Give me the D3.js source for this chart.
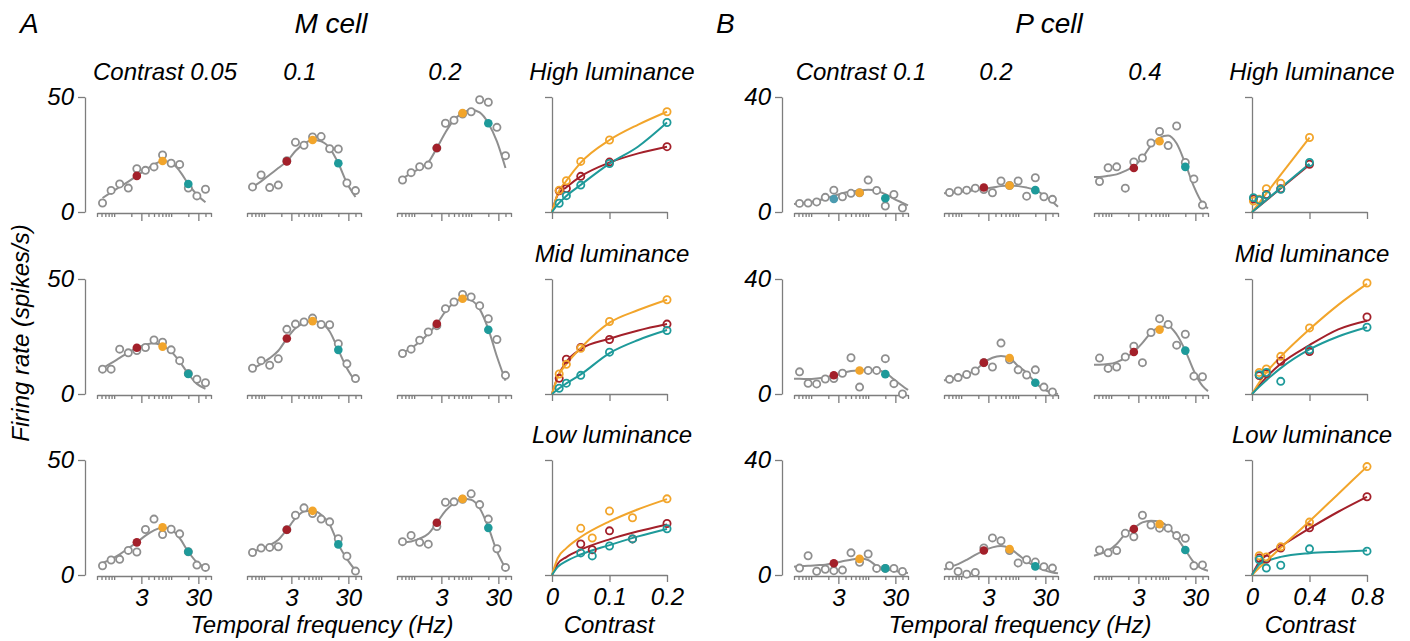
<!DOCTYPE html>
<html>
<head>
<meta charset="utf-8">
<script src="https://cdn.jsdelivr.net/npm/d3@7"></script>
<style>
  body { margin: 0; background: #fff; }
  text { font-family: "Liberation Sans", Arial, sans-serif; font-style: italic; }
</style>
</head>
<body>
<svg id="fig" width="1410" height="641"></svg>
<script>
// stimulus temporal frequencies (Hz)
var freqs = [0.625, 0.884, 1.25, 1.77, 2.5, 3.54, 5, 7.07, 10, 14.1, 20, 28.3, 40];
// fit curves for P cells run over the whole axis
var freqsP = [0.5, 0.625, 0.884, 1.25, 1.77, 2.5, 3.54, 5, 7.07, 10, 14.1, 20, 28.3, 40, 50];
var minorTicks = [0.5, 0.6, 0.7, 0.8, 0.9, 1, 2, 4, 5, 6, 7, 8, 9, 10, 20, 40, 50];
var majorTicks = [3, 30];

var mContrastLabels = ["Contrast 0.05", "0.1", "0.2"];
var pContrastLabels = ["Contrast 0.1", "0.2", "0.4"];
var lumLabels = ["High luminance", "Mid luminance", "Low luminance"];

// M cell, responses at each frequency (one array per contrast column)
var mHighResp = [
  [3.9, 9.4, 12.2, 10.4, 18.8, 18.1, 19.6, 24.8, 21.2, 20.7, 10.4, 7.0, 9.9],
  [10.9, 16.1, 10.6, 11.7, 22.3, 30.3, 29.0, 32.6, 32.8, 27.5, 27.4, 12.6, 9.3],
  [13.9, 17.1, 19.7, 20.4, 27.8, 38.6, 39.9, 42.6, 43.6, 48.8, 47.7, 36.8, 24.5]
];
var mHighFit = [
  [6.1, 8.5, 10.9, 13.2, 15.7, 18.3, 20.6, 22.2, 21.5, 17.8, 12.2, 7.5, 4.2],
  [10.9, 13.3, 16.2, 19.1, 22.0, 26.5, 29.7, 31.3, 30.7, 27.8, 21.2, 12.6, 6.5],
  [14.6, 16.8, 19.0, 21.6, 27.8, 34.6, 40.1, 43.0, 44.5, 43.3, 38.6, 30.7, 19.1]
];
var mHighMarks = [[15.7, 22.2, 12.2], [22.0, 31.3, 21.2], [27.8, 43.0, 38.6]];

var mMidResp = [
  [10.8, 10.8, 19.5, 17.9, 18.9, 20.2, 23.5, 22.5, 19.2, 14.5, 8.9, 6.4, 4.9],
  [11.2, 14.5, 12.5, 15.3, 28.1, 30.4, 31.3, 33.0, 30.2, 30.1, 21.9, 13.1, 6.7],
  [17.6, 19.5, 23.4, 27.0, 29.7, 37.1, 40.0, 43.3, 42.2, 38.4, 32.7, 23.7, 8.1]
];
var mMidFit = [
  [11.2, 13.4, 15.7, 18.0, 20.1, 21.4, 22.1, 20.9, 18.5, 14.1, 8.7, 4.4, 2.3],
  [11.0, 13.1, 15.6, 18.8, 24.1, 28.6, 30.8, 31.7, 30.8, 27.2, 19.2, 11.2, 5.4],
  [18.0, 19.9, 22.7, 26.2, 30.5, 35.9, 39.7, 41.4, 40.7, 36.9, 28.2, 16.3, 5.8]
];
var mMidMarks = [[20.1, 20.6, 8.7], [24.1, 31.7, 19.2], [30.5, 41.4, 27.9]];

var mLowResp = [
  [4.0, 6.5, 6.8, 10.7, 10.0, 19.8, 24.3, 17.6, 19.9, 17.9, 10.1, 4.3, 3.3],
  [9.8, 11.7, 12.0, 12.3, 19.7, 26.0, 29.2, 26.7, 24.3, 23.1, 15.8, 8.2, 1.7],
  [14.5, 17.2, 14.2, 13.4, 21.1, 31.6, 31.8, 32.9, 35.3, 30.6, 24.3, 11.4, 3.3]
];
var mLowFit = [
  [5.2, 6.9, 9.0, 11.6, 14.2, 17.1, 19.4, 20.7, 19.9, 16.0, 10.1, 5.5, 3.2],
  [10.1, 11.4, 12.9, 15.3, 19.7, 24.6, 27.6, 27.9, 26.2, 22.0, 13.3, 7.0, 1.9],
  [14.2, 14.6, 15.8, 17.9, 22.7, 27.9, 31.2, 33.1, 32.7, 29.0, 20.8, 10.3, 3.0]
];
var mLowMarks = [[14.2, 20.7, 10.1], [19.7, 27.9, 13.3], [22.7, 33.1, 20.5]];

// P cell
var pHighResp = [
  [3.0, 3.1, 3.5, 5.1, 7.6, 5.3, 6.5, 6.7, 11.1, 7.5, 2.1, 6.1, 1.4],
  [6.8, 7.3, 7.6, 8.3, 7.8, 6.7, 10.8, 9.2, 10.8, 5.5, 11.9, 5.3, 4.4],
  [10.6, 15.4, 15.7, 8.3, 17.4, 18.8, 24.0, 28.0, 23.1, 29.9, 17.2, 11.5, 2.4]
];
var pHighFit = [
  [2.8, 3.0, 3.3, 3.9, 4.7, 5.6, 6.5, 7.1, 7.5, 7.7, 7.4, 6.2, 4.6, 3.2, 2.3],
  [6.5, 6.7, 6.9, 7.3, 7.6, 8.1, 8.5, 9.0, 9.2, 9.0, 8.5, 7.6, 5.9, 3.6, 1.8],
  [12.2, 12.2, 12.6, 13.1, 14.3, 15.9, 18.9, 23.2, 25.8, 26.6, 23.8, 16.8, 8.8, 3.0, 1.2]
];
var pHighMarks = [[4.5, 6.7, 4.8], [8.5, 9.2, 7.6], [15.3, 24.6, 15.7]];

var pMidResp = [
  [7.7, 3.7, 3.5, 5.2, 5.4, 7.2, 12.6, 2.4, 8.2, 8.2, 12.3, 3.6, 0.0],
  [5.1, 5.7, 6.8, 8.0, 10.9, 9.4, 17.7, 11.9, 8.4, 6.6, 8.4, 2.4, 0.7],
  [12.5, 8.9, 9.4, 12.9, 16.6, 10.9, 21.4, 26.2, 24.2, 17.0, 20.8, 6.2, 6.0]
];
var pMidFit = [
  [5.3, 5.3, 5.2, 5.4, 5.8, 6.4, 7.3, 8.0, 8.3, 8.4, 8.3, 7.4, 5.1, 2.8, 1.4],
  [4.7, 5.2, 5.9, 6.8, 8.2, 10.9, 12.6, 13.2, 12.5, 9.7, 7.4, 3.9, 1.6, 0.4, 0.0],
  [10.2, 10.2, 10.4, 11.1, 12.6, 14.7, 17.8, 21.3, 23.2, 23.6, 20.7, 15.1, 8.0, 2.8, 1.0]
];
var pMidMarks = [[6.5, 8.2, 6.9], [10.9, 12.5, 3.9], [14.6, 22.4, 15.1]];

var pLowResp = [
  [2.4, 6.7, 1.3, 2.0, 1.5, 1.7, 7.7, 4.4, 7.3, 2.3, 2.3, 2.3, 1.2],
  [3.2, 1.2, 0.3, 0.9, 9.4, 12.9, 11.9, 8.5, 4.2, 5.3, 4.5, 2.9, 2.4],
  [8.7, 7.7, 8.5, 14.5, 13.3, 20.8, 17.4, 16.3, 16.3, 13.7, 12.8, 3.2, 3.5]
];
var pLowFit = [
  [2.9, 3.1, 3.2, 3.4, 3.6, 4.1, 4.8, 5.3, 5.8, 5.2, 3.2, 2.1, 1.5, 0.9, 0.7],
  [1.9, 2.7, 3.8, 5.3, 7.0, 8.5, 9.6, 10.1, 9.3, 7.1, 4.8, 3.0, 1.7, 0.9, 0.6],
  [6.7, 7.3, 8.5, 10.8, 14.3, 16.3, 18.3, 18.9, 18.6, 16.6, 13.1, 8.7, 4.4, 2.1, 1.5]
];
var pLowMarks = [[4.1, 5.6, 2.3], [8.5, 9.0, 3.0], [16.0, 17.7, 8.7]];

// contrast response panels: series order red (2.5 Hz), orange (7 Hz), teal (20 Hz)
var mConHigh = [0.0125, 0.025, 0.05, 0.1, 0.2];
var mConLow = [0.05, 0.07, 0.1, 0.14, 0.2];
var mConFitX = [0, 0.01, 0.025, 0.05, 0.1, 0.15, 0.2];
var mHighCR = [[9.2, 10.2, 15.5, 21.7, 28.4], [9.5, 13.6, 22.0, 31.3, 43.6], [3.8, 7.1, 11.7, 21.1, 38.9]];
var mHighCF = [[0, 7.5, 10.8, 15.5, 21.5, 25.5, 28.4], [0, 8.0, 13.6, 21.5, 31.3, 38.0, 43.6], [0, 3.3, 7.0, 11.8, 21.0, 28.5, 38.9]];
var mMidCR = [[6.8, 15.1, 20.2, 23.7, 30.4], [8.7, 12.9, 19.9, 31.5, 41.0], [2.5, 4.7, 8.1, 18.2, 27.6]];
var mMidCF = [[0, 7.5, 14.0, 19.5, 24.0, 27.6, 30.4], [0, 7.5, 13.0, 20.0, 31.0, 36.5, 41.0], [0, 2.0, 4.6, 8.5, 17.8, 23.5, 27.8]];
var mLowCR = [[13.5, 11.0, 19.2, 15.7, 22.4], [20.3, 16.1, 27.8, 24.9, 33.1], [9.6, 8.3, 12.6, 15.7, 20.1]];
var mLowCF = [[0, 4.9, 7.8, 11.0, 15.5, 19.0, 22.0], [0, 7.4, 11.7, 16.5, 23.3, 28.6, 33.0], [0, 3.5, 6.0, 8.9, 13.0, 16.8, 20.0]];

var pConHigh = [0.01, 0.05, 0.1, 0.2, 0.4];
var pConMid = [0.05, 0.1, 0.2, 0.4, 0.8];
var pConHighFitX = [0, 0.4];
var pConFitX = [0, 0.05, 0.1, 0.2, 0.4, 0.6, 0.8];
var pHighCR = [[4.5, 4.2, 6.1, 8.1, 16.6], [3.8, 4.4, 8.1, 10.0, 25.9], [5.0, 4.2, 5.9, 7.9, 17.2]];
var pHighCF = [[0, 16.4], [0, 25.9], [0, 16.8]];
var pMidCR = [[6.4, 7.1, 11.4, 14.8, 26.8], [7.5, 8.7, 13.1, 23.0, 38.6], [6.7, 7.5, 4.4, 15.4, 23.2]];
var pMidCF = [[0, 3.0, 5.8, 10.5, 17.0, 22.5, 25.5], [0, 4.0, 7.5, 13.0, 22.5, 31.0, 38.3], [0, 2.5, 4.8, 9.0, 15.5, 20.0, 23.2]];
var pLowCR = [[5.9, 5.5, 9.4, 16.4, 27.2], [6.7, 6.3, 9.8, 18.4, 37.7], [5.3, 2.4, 3.4, 9.1, 8.3]];
var pLowCF = [[0, 4.5, 6.8, 10.0, 16.2, 22.0, 27.2], [0, 2.5, 4.8, 9.5, 18.7, 28.2, 37.7], [0, 3.6, 4.8, 6.3, 7.6, 8.1, 8.5]];

var grayC = "#8f8f8f", axisC = "#7d7d7d";
var markColors = ["#a3202a", "#f2a52b", "#1e9a9a"];

var svg = d3.select("#fig");
var rowTops = [97, 279, 460], panelH = 115, tfW = 114, conW = 115;

var cells = [
  {
    yMax: 50, yAxisX: 85, tfX: [97, 247, 397], conX: 552, conMax: 0.2, conTicks: [0, 0.1, 0.2],
    fitX: freqs, resp: [mHighResp, mMidResp, mLowResp], fit: [mHighFit, mMidFit, mLowFit],
    marks: [mHighMarks, mMidMarks, mLowMarks],
    conX_: [mConHigh, mConHigh, mConLow], conR: [mHighCR, mMidCR, mLowCR],
    conFX: [mConFitX, mConFitX, mConFitX], conF: [mHighCF, mMidCF, mLowCF],
    heads: mContrastLabels, headX: [165, 300, 445], lumX: 612,
    letter: "A", letterX: 20, title: "M cell", titleX: 331, xLabelX: 322, conLabelX: 609
  },
  {
    yMax: 40, yAxisX: 782, tfX: [794, 944, 1094], conX: 1252, conMax: 0.8, conTicks: [0, 0.4, 0.8],
    fitX: freqsP, resp: [pHighResp, pMidResp, pLowResp], fit: [pHighFit, pMidFit, pLowFit],
    marks: [pHighMarks, pMidMarks, pLowMarks],
    conX_: [pConHigh, pConMid, pConMid], conR: [pHighCR, pMidCR, pLowCR],
    conFX: [pConHighFitX, pConFitX, pConFitX], conF: [pHighCF, pMidCF, pLowCF],
    heads: pContrastLabels, headX: [861, 996, 1145], lumX: 1312,
    letter: "B", letterX: 716, title: "P cell", titleX: 1049, xLabelX: 1020, conLabelX: 1310
  }
];

function styleAxis(g) {
  g.attr("font-size", 24).attr("font-family", null);
  g.selectAll("path, line").attr("stroke", axisC).attr("stroke-width", 1.3);
  g.selectAll("text").attr("fill", "#000");
}

cells.forEach(function(c, ci) {
  svg.append("text").attr("x", c.letterX).attr("y", 33).attr("font-size", 28).text(c.letter);
  svg.append("text").attr("x", c.titleX).attr("y", 33).attr("font-size", 28)
    .attr("text-anchor", "middle").text(c.title);
  c.heads.forEach(function(h, i) {
    svg.append("text").attr("x", c.headX[i]).attr("y", 80).attr("font-size", 24)
      .attr("text-anchor", "middle").text(h);
  });

  rowTops.forEach(function(top, r) {
    var bottom = top + panelH;
    var y = d3.scaleLinear().domain([0, c.yMax]).range([bottom, top]);
    var last = r === rowTops.length - 1;

    svg.append("text").attr("x", c.lumX).attr("y", top - 17).attr("font-size", 24)
      .attr("text-anchor", "middle").text(lumLabels[r]);

    // y axis of the row
    svg.append("g").attr("transform", "translate(" + c.yAxisX + ",0)")
      .call(d3.axisLeft(y).tickValues([0, c.yMax]).tickSize(7).tickSizeOuter(0).tickPadding(4))
      .call(styleAxis);

    c.tfX.forEach(function(x0, col) {
      var x = d3.scaleLog().domain([0.5, 50]).range([x0, x0 + tfW]);
      var g = svg.append("g");

      g.append("g").attr("transform", "translate(0," + (bottom + 1) + ")")
        .call(d3.axisBottom(x).tickValues(minorTicks).tickSize(4).tickSizeOuter(0).tickFormat(""))
        .call(styleAxis);
      var major = g.append("g").attr("transform", "translate(0," + (bottom + 1) + ")")
        .call(d3.axisBottom(x).tickValues(majorTicks).tickSize(8).tickPadding(5)
          .tickFormat(last ? d3.format("d") : ""))
        .call(styleAxis);
      major.select(".domain").remove();

      var fit = c.fit[r][col];
      g.append("path")
        .datum(fit.map(function(v, i) { return [c.fitX[i], v]; }))
        .attr("fill", "none").attr("stroke", grayC).attr("stroke-width", 2)
        .attr("d", d3.line().x(function(d) { return x(d[0]); }).y(function(d) { return y(d[1]); })
          .curve(d3.curveMonotoneX));

      g.selectAll("circle.resp").data(c.resp[r][col]).enter().append("circle")
        .attr("class", "resp")
        .attr("cx", function(d, i) { return x(freqs[i]); })
        .attr("cy", function(d) { return y(d); })
        .attr("r", 3.6).attr("fill", "#fff").attr("stroke", grayC).attr("stroke-width", 1.8);

      var markF = [2.5, 7.07, 20];
      g.selectAll("circle.mark").data(c.marks[r][col]).enter().append("circle")
        .attr("class", "mark")
        .attr("cx", function(d, i) { return x(markF[i]); })
        .attr("cy", function(d) { return y(d); })
        .attr("r", 4.3)
        .attr("fill", function(d, i) {
          // in the original this one dot is drawn in a blue-teal
          if (ci === 1 && r === 0 && col === 0 && i === 0) return "#4b9bb0";
          return markColors[i];
        });
    });

    // contrast response panel
    var cx = d3.scaleLinear().domain([0, c.conMax]).range([c.conX, c.conX + conW]);
    var cg = svg.append("g");
    cg.append("g").attr("transform", "translate(" + c.conX + ",0)")
      .call(d3.axisLeft(y).tickValues([0, c.yMax]).tickSize(7).tickSizeOuter(0).tickFormat(""))
      .call(styleAxis);
    cg.append("g").attr("transform", "translate(0," + bottom + ")")
      .call(d3.axisBottom(cx).tickValues(c.conTicks).tickSize(7).tickSizeOuter(0).tickPadding(6)
        .tickFormat(last ? function(d) { return d === 0 ? "0" : d3.format(".1f")(d); } : ""))
      .call(styleAxis);

    [0, 1, 2].forEach(function(s) {
      var fx = c.conFX[r];
      cg.append("path")
        .datum(c.conF[r][s].map(function(v, i) { return [fx[i], v]; }))
        .attr("fill", "none").attr("stroke", markColors[s]).attr("stroke-width", 2)
        .attr("d", d3.line().x(function(d) { return cx(d[0]); }).y(function(d) { return y(d[1]); })
          .curve(d3.curveMonotoneX));
    });
    [0, 1, 2].forEach(function(s) {
      cg.selectAll("circle.s" + s).data(c.conR[r][s]).enter().append("circle")
        .attr("class", "s" + s)
        .attr("cx", function(d, i) { return cx(c.conX_[r][i]); })
        .attr("cy", function(d) { return y(d); })
        .attr("r", 3.6).attr("fill", "none").attr("stroke", markColors[s]).attr("stroke-width", 1.8);
    });
  });

  svg.append("text").attr("x", c.xLabelX).attr("y", 633).attr("font-size", 24)
    .attr("text-anchor", "middle").text("Temporal frequency (Hz)");
  svg.append("text").attr("x", c.conLabelX).attr("y", 633).attr("font-size", 24)
    .attr("text-anchor", "middle").text("Contrast");
});

svg.append("text").attr("transform", "translate(29,333) rotate(-90)")
  .attr("font-size", 24).attr("text-anchor", "middle").text("Firing rate (spikes/s)");
</script>
</body>
</html>
